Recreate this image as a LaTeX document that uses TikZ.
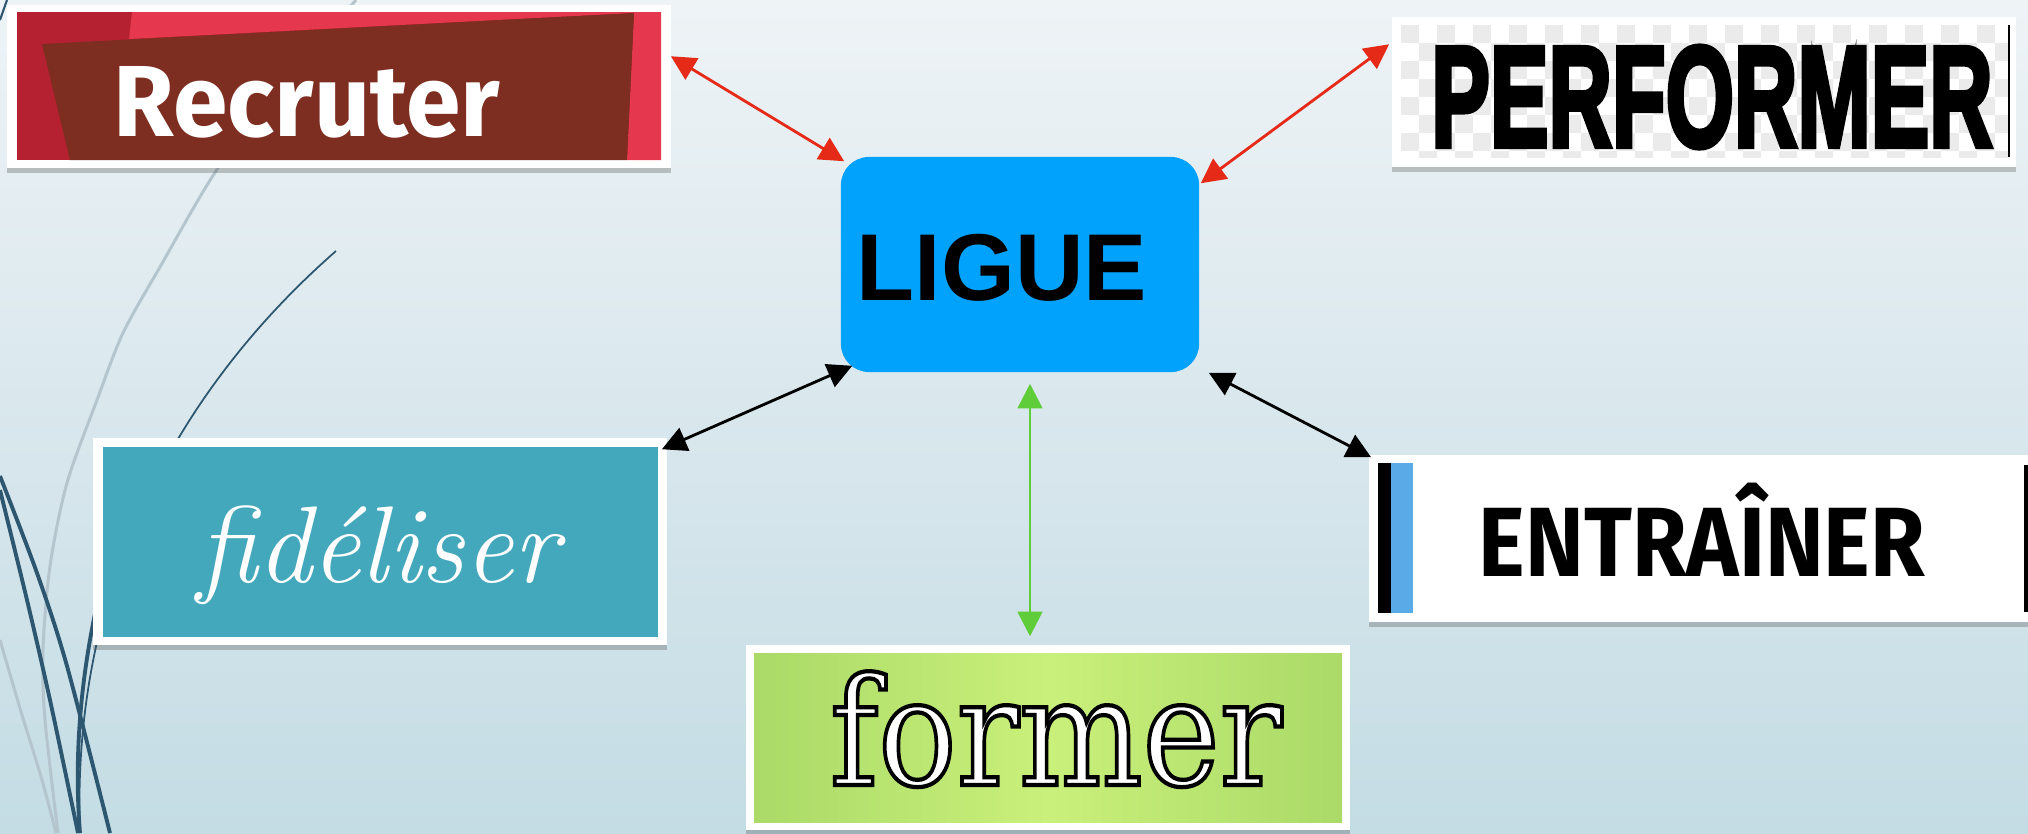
\documentclass[tikz,border=0pt]{standalone}
\usepackage{fontspec}
\newfontfamily\arialfont{Liberation Sans}
\newfontfamily\heavyfont{Liberation Sans}[BoldFeatures={FakeBold=4}]
\newfontfamily\firafont{Fira Sans}
\newfontfamily\slabfont{DejaVu Serif}
\usetikzlibrary{arrows.meta,shadows}

\definecolor{bgtop}{HTML}{EEF3F6}
\definecolor{bgbot}{HTML}{C4DCE4}
\definecolor{recdark}{HTML}{B52130}
\definecolor{recpink}{HTML}{E5384F}
\definecolor{recbrown}{HTML}{7E2E20}
\definecolor{checker}{HTML}{EBEBEB}
\definecolor{liguebg}{HTML}{00A2FB}
\definecolor{fidteal}{HTML}{43A8BB}
\definecolor{entblue}{HTML}{5AAAE8}
\definecolor{formgreen}{HTML}{ABDA68}
\definecolor{formlight}{HTML}{C9F07A}
\definecolor{arrred}{HTML}{E52A17}
\definecolor{arrgreen}{HTML}{5FCC3A}
\definecolor{decoblue}{HTML}{2D5670}
\definecolor{decogrey}{HTML}{B4C5CD}

% white letters with a black outline
\newcommand\outlined[1]{\textcolor{white}{\special{pdf:literal 0 0 0 RG 1.2 w 2 Tr}#1\special{pdf:literal 0 Tr}}}

\begin{document}
\begin{tikzpicture}[x=0.01cm,y=-0.01cm,
  frame/.style={fill=white,inner sep=0pt,
    drop shadow={shadow xshift=0pt,shadow yshift=-1.3pt,opacity=0.3,fill=black!70}},
  link/.style={line width=0.8pt,{Triangle[length=7pt,width=7pt]}-{Triangle[length=7pt,width=7pt]}},
  deco/.style={draw=decoblue,line width=1.1pt}]
\useasboundingbox (0,0) rectangle (2028,833);
\clip (0,0) rectangle (2028,833);
\shade[top color=bgtop,bottom color=bgbot] (0,0) rectangle (2028,833);

% lines on the left
\draw[decogrey,line width=0.85pt] plot[smooth] coordinates {(356,0) (290,75) (218,168) (160,267) (123,333) (97,400) (67,483) (50,566) (43,650) (45,720) (58,833)};
\draw[decogrey,line width=0.85pt] plot[smooth] coordinates {(0,640) (22,715) (42,780) (56,833)};
\draw[decoblue,line width=0.5pt] (336,251) .. controls (200,370) and (70,560) .. (80,833);
\draw[deco] (98,600) .. controls (80,680) and (74,760) .. (80,833);
\draw[deco] plot[smooth] coordinates {(0,476) (37,573) (67,666) (110,833)};
\draw[deco] plot[smooth] coordinates {(0,490) (27,600) (50,700) (78,833)};
\draw[deco,line width=0.6pt] (7,0) -- (0,20);

% Recruter
\node[frame,minimum width=6.64cm,minimum height=1.63cm] (recruter) at (339,86.5) {};
\fill[recdark] (17,12) rectangle (661,160);
\fill[recpink] (132,12) -- (661,12) -- (661,160) -- (627,160) -- (634,13) -- (129,39) -- cycle;
\fill[recbrown] (42,44) -- (634,13) -- (627,160) -- (70,160) -- cycle;
\node[text=white] (recruterlabel) at (307,102) {\resizebox{3.86cm}{0.70cm}{\firafont\bfseries Recruter}};

% Performer
\node[frame,minimum width=6.24cm,minimum height=1.5cm] (performer) at (1704,92) {};
\begin{scope}
\clip (1401,25) rectangle (2008,157);
\foreach \i in {0,...,33}
  \foreach \j in {0,...,7} {
    \pgfmathtruncatemacro\k{mod(\i+\j,2)}
    \ifnum\k=0 \fill[checker] (1401+18*\i,25+18*\j) rectangle ++(18,18); \fi
  }
\end{scope}
\draw[line width=0.6pt] (2009,25) -- (2009,157);
\node (performerlabel) at (1712,97) {\resizebox{5.61cm}{1.0cm}{\heavyfont\bfseries PERFORMER}};

% LIGUE
\node[fill=liguebg,rounded corners=8pt,minimum width=3.58cm,minimum height=2.15cm] (ligue) at (1020,264.5) {};
\node (liguelabel) at (1002,267.5) {\arialfont\bfseries\fontsize{27}{30}\selectfont LIGUE};

% fideliser
\node[frame,minimum width=5.74cm,minimum height=2.07cm] (fideliser) at (380,541.5) {};
\fill[fidteal] (103,447) rectangle (658,637);
\node[text=white,anchor=base] (fidlabel) at (378,582) {\fontsize{31}{34}\selectfont\itshape fidéliser};

% ENTRAINER
\node[frame,minimum width=6.71cm,minimum height=1.67cm] (entrainer) at (1704.5,538.5) {};
\fill[black] (1378,463) rectangle (1391,613);
\fill[entblue] (1391,463) rectangle (1413,613);
\fill[black] (2024,465) rectangle (2030,612);
\node[anchor=base] (entlabel) at (1702,576) {\scalebox{0.9}[1]{\firafont\bfseries\fontsize{28}{31}\selectfont ENTRAÎNER}};

% former
\node[frame,minimum width=6.04cm,minimum height=1.85cm] (former) at (1048,737.5) {};
\shade[left color=formgreen,right color=formgreen,middle color=formlight] (754,653) rectangle (1342,822);
\node[anchor=base] (formlabel) at (1056,785) {\scalebox{0.87}[1]{\slabfont\fontsize{42.6}{46}\selectfont\outlined{former}}};

% arrows
\draw[link,arrred] ([shift={(-1,52)}]recruter.north east) -- ([shift={(4,5)}]ligue.north west);
\draw[link,arrred] ([shift={(-2,28)}]performer.north west) -- ([shift={(1,27)}]ligue.north east);
\draw[link,black] ([shift={(-6,12)}]fideliser.north east) -- ([shift={(12,-7)}]ligue.south west);
\draw[link,black] ([shift={(3,3)}]entrainer.north west) -- ([shift={(9,0)}]ligue.south east);
\draw[link,arrgreen] ([shift={(10,11)}]ligue.south) -- ([shift={(-18,-8)}]former.north);
\end{tikzpicture}
\end{document}
